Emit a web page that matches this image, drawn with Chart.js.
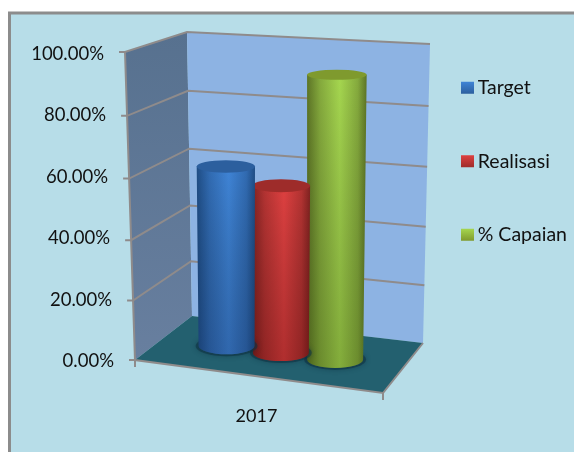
<!DOCTYPE html>
<html>
<head>
<meta charset="utf-8">
<title>Target, Realisasi, % Capaian 2017</title>
<script src="https://cdn.jsdelivr.net/npm/chart.js@4"></script>
<style>
  html, body { margin: 0; padding: 0; background: #fff; }
  canvas { display: block; }
</style>
</head>
<body>
<canvas id="chart" width="574" height="452"></canvas>
<script>
const categories = ["2017"];
const targetValues = [60.8];
const realisasiValues = [56];
const capaianValues = [92.8];
const tickStep = 20;

const fontName = "Lato, Carlito, sans-serif";
const frameColor = "#8c8c8c";
const gridColor = "#8f8b8b";
const panelColor = "#b7dde8";
const legendGap = 54;

// the 3d box the plot sits in: [x, y] on screen for each corner
const floorFrontLeft = [135, 360], floorFrontRight = [383, 393];
const floorBackLeft = [192, 316], floorBackRight = [423, 343];
const topFrontLeft = [125, 52], topFrontRight = [395, 67];
const topBackLeft = [187, 32], topBackRight = [430, 44];

const mix = (a, b, t) => a + (b - a) * t;

// u: left to right, d: front to back, v: bottom to top (all 0..1)
function project(u, d, v) {
  const h = v - 0.045 * v * (1 - v); // slight perspective on the height
  const out = [];
  for (let i = 0; i < 2; i++) {
    const floorFront = mix(floorFrontLeft[i], floorFrontRight[i], u);
    const floorBack = mix(floorBackLeft[i], floorBackRight[i], u);
    const topFront = mix(topFrontLeft[i], topFrontRight[i], u);
    const topBack = mix(topBackLeft[i], topBackRight[i], u);
    out.push(mix(mix(floorFront, floorBack, d), mix(topFront, topBack, d), h));
  }
  return { x: out[0], y: out[1] };
}

function polygon(ctx, pts, fill) {
  ctx.beginPath();
  pts.forEach((p, i) => (i ? ctx.lineTo(p.x, p.y) : ctx.moveTo(p.x, p.y)));
  ctx.closePath();
  ctx.fillStyle = fill;
  ctx.fill();
}

function line(ctx, pts) {
  ctx.beginPath();
  pts.forEach((p, i) => (i ? ctx.lineTo(p.x, p.y) : ctx.moveTo(p.x, p.y)));
  ctx.stroke();
}

const shades = {
  "#3a7ccb": { edge: "#1f4d85", mid: "#3f84d6", cap: "#2c5f9e", low: "rgba(10,30,70,0.28)" },
  "#c93a38": { edge: "#7f2220", mid: "#de4040", cap: "#9e2c2a", low: "rgba(60,0,0,0.28)" },
  "#9bc544": { edge: "#5d7526", mid: "#a5d64f", cap: "#7f9a2e", low: "rgba(30,50,0,0.25)" }
};

function drawCylinder(ctx, chart, el, color) {
  const area = chart.chartArea;
  const u = (el.x - area.left) / area.width - 0.01;
  const half = el.width / 2 / area.width * 1.03;
  const v = (area.bottom - el.y) / area.height;
  const c = shades[color];

  const base = project(u, 0.5, 0);
  const top = project(u, 0.5, v);
  top.x = base.x + (top.x - base.x) * 0.4; // cylinders lean less than the walls
  const rxBase = (project(u + half, 0.5, 0).x - project(u - half, 0.5, 0).x) / 2;
  const rxTop = (project(u + half, 0.5, v).x - project(u - half, 0.5, v).x) / 2;
  const ryBase = rxBase * 0.3;
  const ryTop = rxTop * (0.3 - 0.14 * v);

  // soft shadow on the floor
  ctx.save();
  ctx.fillStyle = "rgba(14,50,66,0.55)";
  ctx.shadowColor = "rgba(10,40,55,0.7)";
  ctx.shadowBlur = 5;
  ctx.beginPath();
  ctx.ellipse(base.x, base.y, rxBase + 3, ryBase + 2, 0, 0, Math.PI * 2);
  ctx.fill();
  ctx.restore();

  // body
  ctx.beginPath();
  ctx.moveTo(top.x - rxTop, top.y);
  ctx.lineTo(base.x - rxBase, base.y);
  ctx.ellipse(base.x, base.y, rxBase, ryBase, 0, Math.PI, 0, true);
  ctx.lineTo(top.x + rxTop, top.y);
  ctx.closePath();
  const left = Math.min(top.x - rxTop, base.x - rxBase);
  const right = Math.max(top.x + rxTop, base.x + rxBase);
  const grad = ctx.createLinearGradient(left, 0, right, 0);
  grad.addColorStop(0, c.edge);
  grad.addColorStop(0.22, mix2(c.edge, c.mid));
  grad.addColorStop(0.55, c.mid);
  grad.addColorStop(0.85, mix2(c.edge, c.mid));
  grad.addColorStop(1, c.edge);
  ctx.fillStyle = grad;
  ctx.fill();
  const fade = ctx.createLinearGradient(0, top.y, 0, base.y + ryBase);
  fade.addColorStop(0, "rgba(0,0,0,0)");
  fade.addColorStop(1, c.low);
  ctx.fillStyle = fade;
  ctx.fill();

  // top cap
  ctx.beginPath();
  ctx.ellipse(top.x, top.y, rxTop, ryTop, 0, 0, Math.PI * 2);
  ctx.fillStyle = c.cap;
  ctx.fill();
}

function mix2(a, b) {
  const pa = parseInt(a.slice(1), 16), pb = parseInt(b.slice(1), 16);
  const ch = s => Math.round(((pa >> s) & 255) * 0.45 + ((pb >> s) & 255) * 0.55);
  return `rgb(${ch(16)},${ch(8)},${ch(0)})`;
}

const box3d = {
  id: "box3d",
  afterLayout(chart) {
    // legend goes higher and further right than chart.js puts it
    const legend = chart.legend;
    const h = legend.bottom - legend.top;
    legend.top = 24;
    legend.bottom = 24 + h;
    legend.left = 406;
    legend.right = chart.width + 100; // legend clips to its box
    legend.adjustHitBoxes();
  },
  beforeDraw(chart) {
    const ctx = chart.ctx;
    const y = chart.scales.y;
    const area = chart.chartArea;

    ctx.save();
    ctx.fillStyle = "#ffffff";
    ctx.fillRect(0, 0, chart.width, chart.height);
    ctx.fillStyle = panelColor;
    ctx.fillRect(9.5, 13, chart.width, chart.height);
    ctx.strokeStyle = frameColor;
    ctx.lineWidth = 3;
    ctx.strokeRect(9.5, 13, chart.width + 10, chart.height + 10);

    // walls and floor
    const wallGrad = ctx.createLinearGradient(0, 32, 0, 360);
    wallGrad.addColorStop(0, "#57718f");
    wallGrad.addColorStop(1, "#687f9f");
    polygon(ctx, [project(0, 0, 0), project(0, 1, 0), project(0, 1, 1), project(0, 0, 1)], wallGrad);
    polygon(ctx, [project(0, 1, 0), project(1, 1, 0), project(1, 1, 1), project(0, 1, 1)], "#8db3e3");
    polygon(ctx, [project(0, 0, 0), project(1, 0, 0), project(1, 1, 0), project(0, 1, 0)], "#23606f");

    // grid lines and tick marks from the value scale
    ctx.strokeStyle = gridColor;
    ctx.lineWidth = 2;
    y.ticks.forEach((tick, i) => {
      const v = (area.bottom - y.getPixelForTick(i)) / area.height;
      const front = project(0, 0, v);
      const pts = [{ x: front.x - 6, y: front.y }, front];
      if (i > 0) pts.push(project(0, 1, v), project(1, 1, v));
      line(ctx, pts);
    });

    // axis edges
    line(ctx, [project(0, 0, 1), project(0, 0, 0), project(1, 0, 0), project(1, 1, 0)]);
    const a = project(0, 0, 0), b = project(1, 0, 0);
    line(ctx, [a, { x: a.x, y: a.y + 7 }]);
    line(ctx, [b, { x: b.x, y: b.y + 7 }]);

    // value labels follow the slanted axis
    ctx.fillStyle = "#111111";
    ctx.font = `18.5px ${fontName}`;
    ctx.textAlign = "right";
    ctx.textBaseline = "middle";
    y.ticks.forEach((tick, i) => {
      const py = y.getPixelForTick(i);
      const v = (area.bottom - py) / area.height;
      ctx.fillText(tick.label, project(0, 0, v).x - 21, py);
    });
    ctx.restore();
  },
  beforeDatasetDraw(chart, args) {
    const ctx = chart.ctx;
    const color = chart.data.datasets[args.index].backgroundColor;
    ctx.save();
    args.meta.data.forEach(el => drawCylinder(ctx, chart, el, color));
    ctx.restore();
    return false; // flat bar not wanted
  },
  afterDraw(chart) {
    // legend swatches get the same top to bottom shading as the picture
    const ctx = chart.ctx;
    const legend = chart.legend;
    const hit = legend.legendHitBoxes;
    const x = legend.left + legendGap + 1; // hitbox left is not usable after moving the legend
    ctx.save();
    chart.data.datasets.forEach((ds, i) => {
      const c = shades[ds.backgroundColor];
      const cy = hit[i].top + hit[i].height / 2;
      const grad = ctx.createLinearGradient(0, cy - 6, 0, cy + 6);
      grad.addColorStop(0, c.mid);
      grad.addColorStop(1, c.cap);
      ctx.fillStyle = panelColor; // cover the flat box underneath
      ctx.fillRect(x - 1, cy - 9, 14, 19);
      ctx.fillStyle = grad;
      ctx.fillRect(x, cy - 6, 13, 12);
    });
    ctx.restore();
  }
};

new Chart(document.getElementById("chart"), {
  type: "bar",
  data: {
    labels: categories,
    datasets: [
      { label: "Target", data: targetValues, backgroundColor: "#3a7ccb" },
      { label: "Realisasi", data: realisasiValues, backgroundColor: "#c93a38" },
      { label: "% Capaian", data: capaianValues, backgroundColor: "#9bc544" }
    ]
  },
  options: {
    responsive: false,
    animation: false,
    layout: { padding: { top: 54, bottom: 0, right: 70, left: 0 } },
    datasets: { bar: { categoryPercentage: 0.68, barPercentage: 1 } },
    plugins: {
      tooltip: { enabled: false },
      legend: {
        position: "right",
        align: "start",
        labels: {
          boxWidth: 8,
          boxHeight: 12,
          padding: legendGap,
          color: "#111111",
          font: { family: fontName, size: 19.5 }
        }
      }
    },
    scales: {
      x: {
        grid: { display: false },
        border: { display: false },
        afterFit(scale) { scale.height = 91; },
        ticks: { color: "#111111", padding: 36, font: { family: fontName, size: 18 } }
      },
      y: {
        min: 0,
        max: 100,
        grid: { display: false },
        border: { display: false },
        afterFit(scale) { scale.width = 135; },
        ticks: {
          stepSize: tickStep,
          display: false,
          callback: value => value.toFixed(2) + "%"
        }
      }
    }
  },
  plugins: [box3d]
});
</script>
</body>
</html>
